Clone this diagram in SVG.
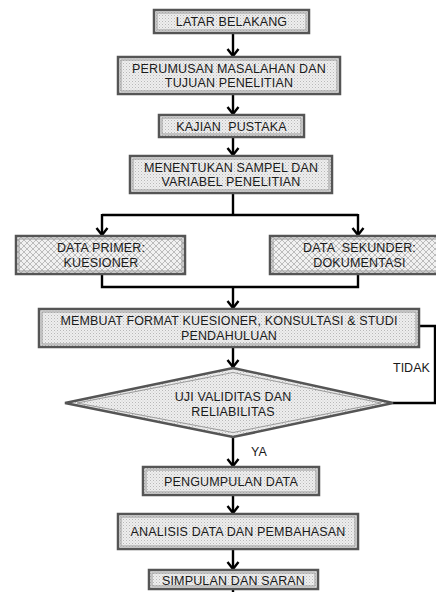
<svg xmlns="http://www.w3.org/2000/svg" width="436" height="592" viewBox="0 0 436 592">
<defs>
<pattern id="dots" width="3" height="3" patternUnits="userSpaceOnUse">
<rect width="3" height="3" fill="#eeeeee"/>
<rect x="0" y="0" width="1" height="1" fill="#b8b8b8"/>
<rect x="1.5" y="1.5" width="1" height="1" fill="#cacaca"/>
</pattern>
<pattern id="hatch" width="6" height="6" patternUnits="userSpaceOnUse">
<rect width="6" height="6" fill="#f1f1f1"/>
<path d="M0,0 L6,6 M6,0 L0,6" stroke="#afafaf" stroke-width="0.8"/>
</pattern>
<marker id="arr" viewBox="-9 -7 11 14" refX="0" refY="0" markerWidth="11" markerHeight="14" markerUnits="userSpaceOnUse" orient="auto">
<path d="M-7,-5.5 L0,0 L-7,5.5" fill="none" stroke="#000" stroke-width="2.4"/>
</marker>
<style>
.box{fill:url(#dots);stroke:#555;stroke-width:2.5}
.hbox{fill:url(#hatch);stroke:#555;stroke-width:2.5}
.inner{fill:none;stroke:#9a9a9a;stroke-width:1}
.t{font-family:"Liberation Sans",Arial,sans-serif;font-size:12.5px;letter-spacing:0.15px;fill:#1a1a1a;text-anchor:middle;white-space:pre}
.lbl{font-family:"Liberation Sans",Arial,sans-serif;font-size:12.5px;fill:#1a1a1a}
.c{fill:none;stroke:#000;stroke-width:2.4}
.ca{fill:none;stroke:#000;stroke-width:2.4;marker-end:url(#arr)}
</style>
</defs>
<rect width="436" height="592" fill="#fff"/>

<g id="connectors">
<line class="ca" x1="233" y1="33" x2="233" y2="56"/>
<line class="ca" x1="233" y1="94" x2="233" y2="114"/>
<line class="ca" x1="233" y1="137" x2="233" y2="155"/>
<polyline class="c" points="233,193 233,215"/>
<line class="c" x1="102" y1="215" x2="358" y2="215"/>
<line class="ca" x1="102" y1="214" x2="102" y2="235"/>
<line class="ca" x1="358" y1="214" x2="358" y2="235"/>
<polyline class="c" points="102,274 102,287 358,287 358,274"/>
<line class="ca" x1="233" y1="287" x2="233" y2="308"/>
<line class="ca" x1="233" y1="347" x2="233" y2="367"/>
<polyline class="c" points="393,403 435,403 435,326 419,326"/>
<line class="ca" x1="233" y1="437" x2="233" y2="466"/>
<line class="ca" x1="233" y1="495" x2="233" y2="513"/>
<line class="ca" x1="233" y1="549" x2="233" y2="569"/>
<line class="c" x1="233" y1="589" x2="233" y2="592"/>
<text class="lbl" x="393" y="372">TIDAK</text>
<text class="lbl" x="251" y="456">YA</text>
</g>

<g id="n1">
<rect class="box" x="154" y="10" width="155" height="23"/>
<rect class="inner" x="157" y="13" width="149" height="17"/>
<text class="t" x="231.5" y="26">LATAR BELAKANG</text>
</g>

<g id="n2">
<rect class="box" x="118" y="57" width="222" height="37"/>
<rect class="inner" x="121" y="60" width="216" height="31"/>
<text class="t" x="229" y="72.7">PERUMUSAN MASALAHAN DAN</text>
<text class="t" x="229" y="87.2">TUJUAN PENELITIAN</text>
</g>

<g id="n3">
<rect class="box" x="159" y="115" width="145" height="22"/>
<rect class="inner" x="162" y="118" width="139" height="16"/>
<text class="t" x="231.5" y="130.5">KAJIAN  PUSTAKA</text>
</g>

<g id="n4">
<rect class="box" x="130" y="156" width="202" height="37"/>
<rect class="inner" x="133" y="159" width="196" height="31"/>
<text class="t" x="231" y="171.7">MENENTUKAN SAMPEL DAN</text>
<text class="t" x="231" y="186.2">VARIABEL PENELITIAN</text>
</g>

<g id="n5">
<rect class="hbox" x="16" y="236" width="169" height="38"/>
<rect class="inner" x="19" y="239" width="163" height="32"/>
<text class="t" x="101" y="252.2">DATA PRIMER:</text>
<text class="t" x="101" y="266.7">KUESIONER</text>
</g>

<g id="n6">
<rect class="hbox" x="270" y="236" width="179" height="38"/>
<rect class="inner" x="273" y="239" width="173" height="32"/>
<text class="t" x="359.5" y="252.2">DATA  SEKUNDER:</text>
<text class="t" x="359.5" y="266.7">DOKUMENTASI</text>
</g>

<g id="n7">
<rect class="box" x="39" y="309" width="380" height="38"/>
<rect class="inner" x="42" y="312" width="374" height="32"/>
<text class="t" x="229" y="325.2">MEMBUAT FORMAT KUESIONER, KONSULTASI &amp; STUDI</text>
<text class="t" x="229" y="339.7">PENDAHULUAN</text>
</g>

<g id="n8">
<polygon class="box" points="233,368 393,403 233,437 65,403"/>
<polygon class="inner" points="233,372.5 381,403 233,432.5 77,403"/>
<text class="t" x="233" y="401">UJI VALIDITAS DAN</text>
<text class="t" x="233" y="415.5">RELIABILITAS</text>
</g>

<g id="n9">
<rect class="box" x="143" y="467" width="176" height="28"/>
<rect class="inner" x="146" y="470" width="170" height="22"/>
<text class="t" x="231" y="485.5">PENGUMPULAN DATA</text>
</g>

<g id="n10">
<rect class="box" x="118" y="514" width="240" height="35"/>
<rect class="inner" x="121" y="517" width="234" height="29"/>
<text class="t" x="238" y="536">ANALISIS DATA DAN PEMBAHASAN</text>
</g>

<g id="n11">
<rect class="box" x="149" y="570" width="169" height="19"/>
<rect class="inner" x="152" y="573" width="163" height="13"/>
<text class="t" x="233.5" y="585">SIMPULAN DAN SARAN</text>
</g>
</svg>
